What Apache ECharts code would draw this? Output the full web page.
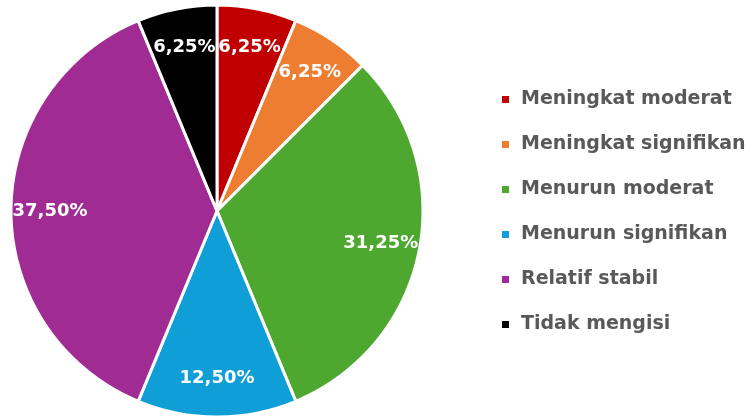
<!DOCTYPE html>
<html>
<head>
<meta charset="utf-8">
<script src="https://cdn.jsdelivr.net/npm/echarts@6/dist/echarts.min.js"></script>
<style>
  html, body { margin: 0; padding: 0; background: #fff; }
  #chart { width: 756px; height: 418px; }
</style>
</head>
<body>
<div id="chart"></div>
<script>
// data
const categories = ['Meningkat moderat', 'Meningkat signifikan', 'Menurun moderat', 'Menurun signifikan', 'Relatif stabil', 'Tidak mengisi'];
const values = [1, 1, 5, 2, 6, 1];
const colors = ['#C00000', '#ED7D31', '#4EA72E', '#0F9ED5', '#A02B93', '#000000'];

document.addEventListener('DOMContentLoaded', function() {
  const myChart = echarts.init(document.getElementById('chart'));
  const total = values.reduce((a, b) => a + b, 0);
  const pieData = categories.map((name, i) => ({ name: name, value: values[i] }));
  const fontFamily = '"DejaVu Sans", sans-serif';

  const option = {
    animation: false,
    color: colors,
    legend: {
      orient: 'vertical',
      left: 495,
      top: 83,
      data: categories,
      icon: 'rect',
      itemWidth: 9,
      itemHeight: 9,
      itemGap: 22,
      textStyle: {
        color: '#595959',
        fontSize: 19,
        fontWeight: 'bold',
        fontFamily: fontFamily,
        lineHeight: 23,
        padding: [0, 0, 0, 6]
      }
    },
    series: [
      {
        type: 'pie',
        center: [217, 211],
        radius: [0, 206],
        startAngle: 90,
        clockwise: true,
        data: pieData,
        itemStyle: { borderColor: '#fff', borderWidth: 3 },
        label: { show: false },
        labelLine: { show: false },
        emphasis: { disabled: true }
      },
      {
        // label ring only
        type: 'pie',
        center: [217, 211],
        radius: [122, 206],
        startAngle: 90,
        clockwise: true,
        silent: true,
        data: pieData,
        itemStyle: { color: 'transparent', borderWidth: 0 },
        label: {
          show: true,
          position: 'inside',
          color: '#fff',
          fontSize: 18,
          fontWeight: 'bold',
          fontFamily: fontFamily,
          formatter: function(p) {
            return (p.value / total * 100).toFixed(2).replace('.', ',') + '%';
          }
        },
        labelLine: { show: false },
        emphasis: { disabled: true }
      }
    ]
  };
  myChart.setOption(option);
});
</script>
</body>
</html>
